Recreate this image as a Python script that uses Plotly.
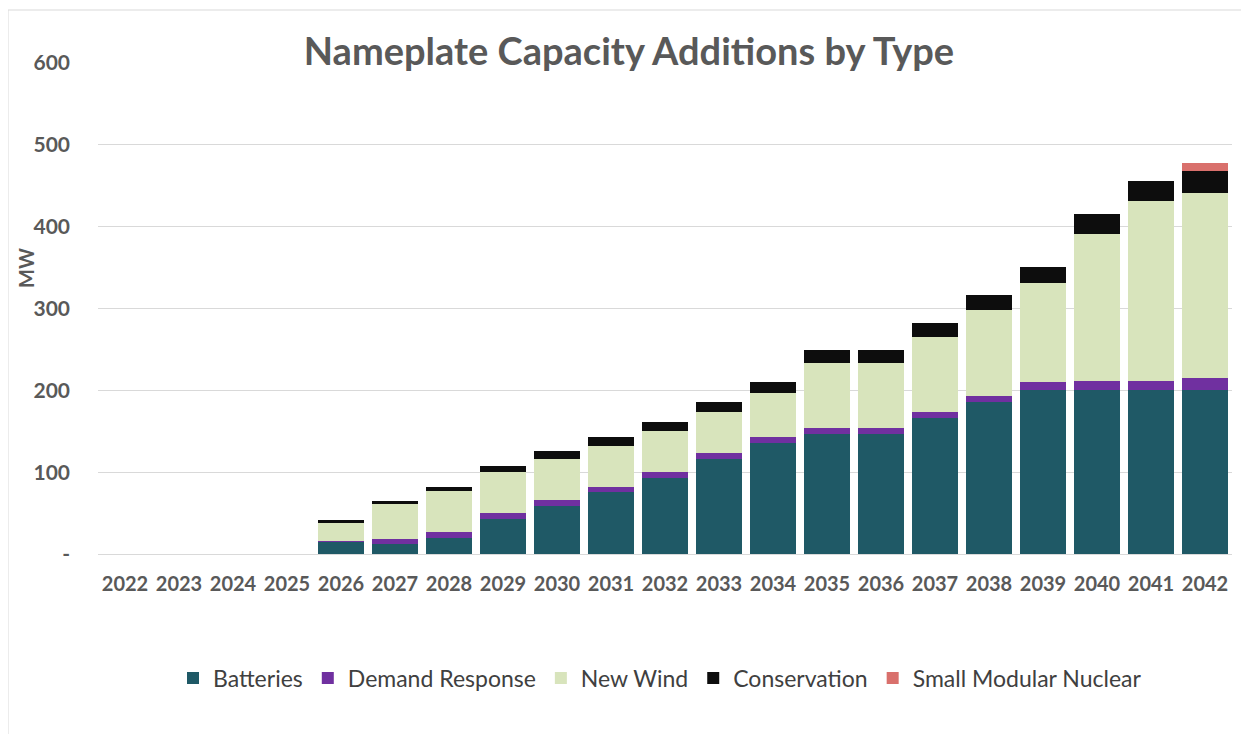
import plotly.graph_objects as go

years = [str(y) for y in range(2022, 2043)]
batteries = [0, 0, 0, 0, 15, 12, 19.5, 43, 59, 76, 93, 116, 136, 147, 147, 166, 186, 200, 200, 200, 200]
demand_response = [0, 0, 0, 0, 1, 6, 8, 7.5, 7.5, 6, 7.5, 7.5, 7, 7, 7, 7.5, 7, 10, 12, 12, 15]
new_wind = [0, 0, 0, 0, 23, 43, 49.5, 50, 50, 50, 49.5, 50, 54, 79, 79, 91.5, 105, 121, 179.5, 219, 226.5]
conservation = [0, 0, 0, 0, 2, 4, 5, 7, 9, 11, 11, 12, 13, 16, 16, 17, 18, 20, 23.5, 25, 26.5]
small_modular_nuclear = [0, 0, 0, 0, 0, 0, 0, 0, 0, 0, 0, 0, 0, 0, 0, 0, 0, 0, 0, 0, 10]

y_ticks = [0, 100, 200, 300, 400, 500, 600]
y_tick_labels = ["-", "100", "200", "300", "400", "500", "600"]

series = [
    ("Batteries", batteries, "#1F5966"),
    ("Demand Response", demand_response, "#7030A0"),
    ("New Wind", new_wind, "#D8E4BC"),
    ("Conservation", conservation, "#0D0D0D"),
    ("Small Modular Nuclear", small_modular_nuclear, "#D9706C"),
]

FONT = "Lato"
GRAY = "#595959"

# figure is placed with an 8px page margin; all positions below are figure-local
W, H = 1233, 726
ML, MT = 90, 55
PW, PH = 1134, 491

def px(x):
    return (x - ML) / PW

def py(y):
    return (MT + PH - y) / PH

fig = go.Figure()
for name, vals, color in series:
    fig.add_trace(go.Bar(x=years, y=vals, name=name, marker=dict(color=color, line=dict(width=0))))

fig.update_layout(
    width=W, height=H,
    barmode="stack", bargap=0.148,
    paper_bgcolor="white", plot_bgcolor="white",
    margin=dict(l=ML, r=W - ML - PW, t=MT, b=H - MT - PH),
    font=dict(family=FONT, color=GRAY),
    title=dict(text="<b>Nameplate Capacity Additions by Type</b>", x=px(621), xanchor="center",
               xref="paper", y=1 - 44 / H, yanchor="middle",
               font=dict(family=FONT, size=38, color=GRAY)),
    xaxis=dict(type="category", showgrid=False, showline=True, linecolor="#D9D9D9", linewidth=1,
               ticks="", tickfont=dict(family=FONT, size=20, color=GRAY, weight="bold"), ticklabelstandoff=12),
    yaxis=dict(range=[0, 600], tickvals=y_ticks, ticktext=y_tick_labels, showgrid=True,
               gridcolor="#D9D9D9", gridwidth=1, zeroline=False, showline=False,
               tickfont=dict(family=FONT, size=21, color=GRAY, weight="bold"), ticklabelstandoff=27),
    legend=dict(orientation="h", x=px(652), xanchor="center", y=py(670), yanchor="middle",
                font=dict(family=FONT, size=23, color="#404040"), traceorder="normal",
                itemwidth=30, tracegroupgap=0),
    annotations=[dict(text="<b>MW</b>", xref="paper", yref="paper", x=px(18), y=py(260),
                      xanchor="center", yanchor="middle", textangle=-90, showarrow=False,
                      font=dict(family=FONT, size=20, color=GRAY))],
    shapes=[dict(type="rect", xref="paper", yref="paper", x0=px(0), x1=px(1237), y0=py(729), y1=py(2),
                 line=dict(color="#D9D9D9", width=1), fillcolor="rgba(0,0,0,0)", layer="below")],
)

fig.write_html("out.html")
